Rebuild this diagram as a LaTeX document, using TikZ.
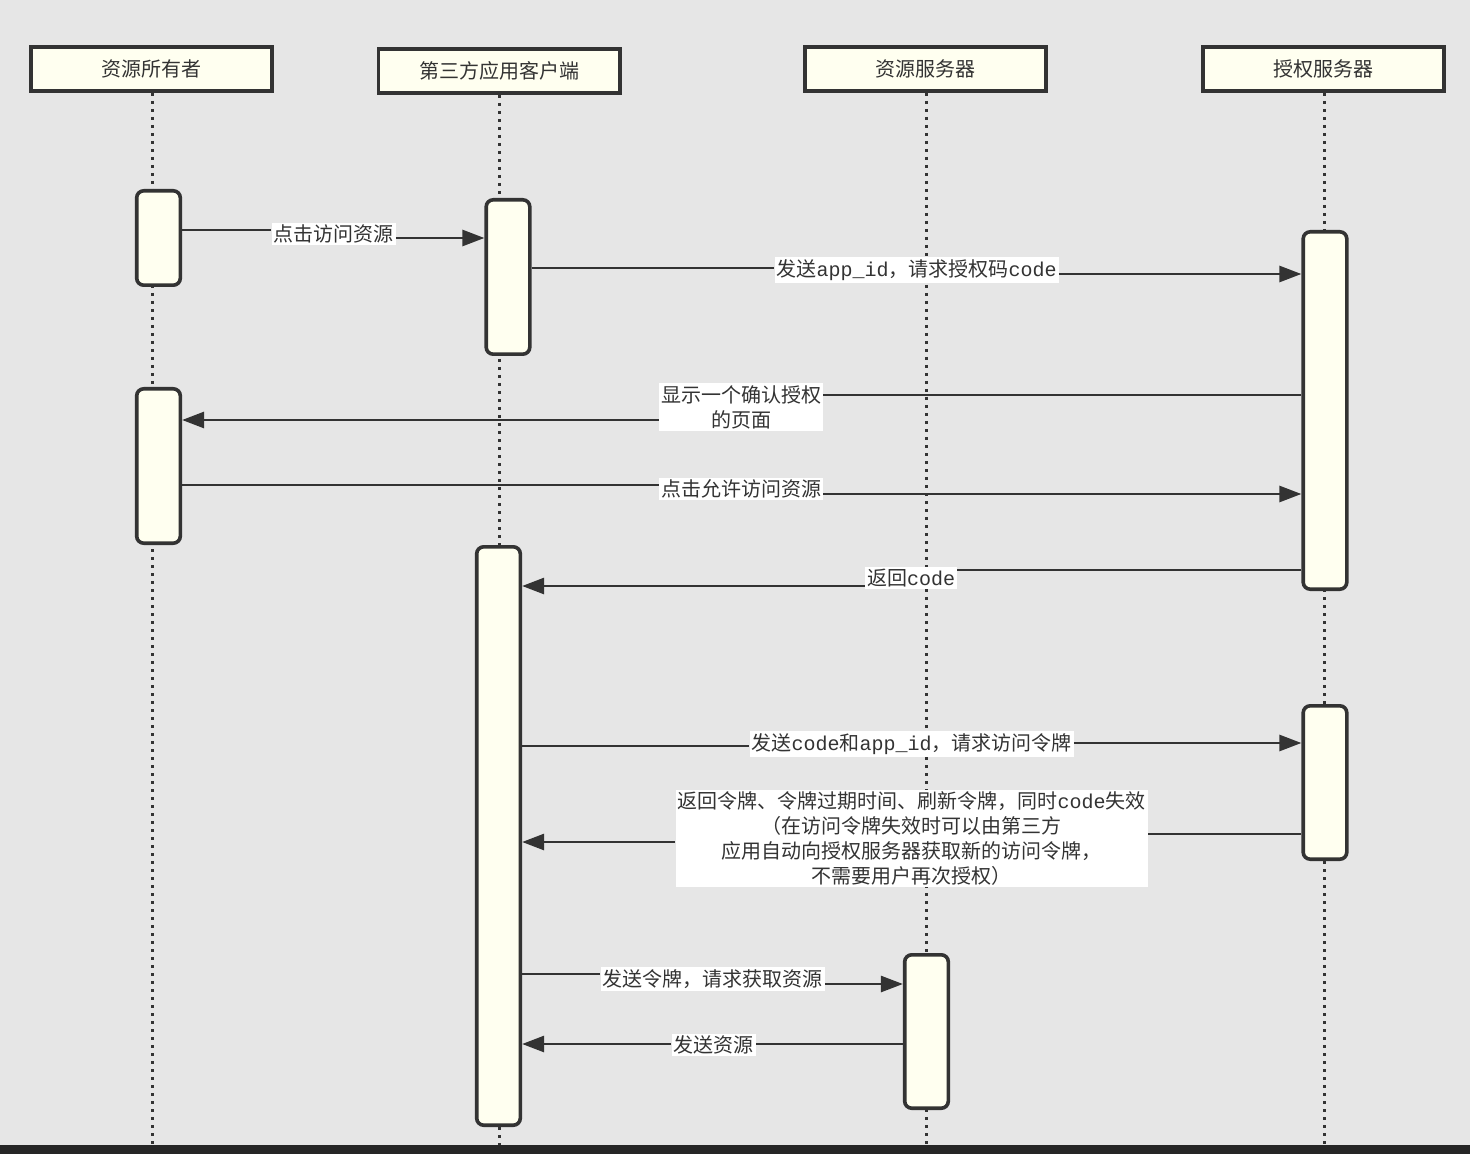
\documentclass[tikz,border=0pt]{standalone}
\usepackage{fontspec}
\setmainfont{Noto Sans CJK SC}
\newfontfamily\latin{Liberation Mono}
\usepackage{xcolor}
\usetikzlibrary{arrows.meta}
\definecolor{bggray}{RGB}{230,230,230}
\definecolor{boxfill}{RGB}{255,255,240}
\definecolor{ink}{RGB}{51,51,51}
\definecolor{barcol}{RGB}{38,38,38}
\newcommand{\lt}[1]{{\latin #1}}

\begin{document}
\begin{tikzpicture}[x=0.5pt,y=-0.5pt,
  head/.style={draw=ink, line width=1.8pt, fill=boxfill, minimum width=120.7pt, minimum height=22.2pt, inner sep=0pt, text=ink, font=\fontsize{10}{12}\selectfont},
  act/.style={draw=ink, line width=1.8pt, fill=boxfill, rounded corners=3.5pt, minimum width=21.8pt, inner sep=0pt},
  life/.style={ink, line width=1.5pt, dash pattern=on 1.5pt off 2.5pt},
  msg/.style={ink, line width=1.35pt},
  tomsg/.style={msg, -{Triangle[length=11pt,width=8pt]}},
  lbl/.style={fill=white, inner sep=1pt, text=ink, align=center, font=\fontsize{10}{12.5}\selectfont}]
\useasboundingbox (0,0) rectangle (1470,1154);
\fill[bggray] (0,0) rectangle (1470,1145);

\node[head] (owner) at (151.5,69) {资源所有者};
\node[head] (client) at (499,71) {第三方应用客户端};
\node[head] (rserver) at (925.5,69) {资源服务器};
\node[head] (aserver) at (1323.5,69) {授权服务器};

\draw[life] (152,93) -- (152,1145);
\draw[life] (499,95) -- (499,1145);
\draw[life] (926,93) -- (926,1145);
\draw[life] (1324,93) -- (1324,1145);

\node[act, minimum height=47.2pt] (a1) at (158.5,238) {};
\node[act, minimum height=77.2pt] (a2) at (508,277) {};
\node[act, minimum height=178.7pt] (a3) at (1325,410.5) {};
\node[act, minimum height=77.2pt] (a4) at (158.5,466) {};
\node[act, minimum height=289.2pt] (a5) at (498.5,836) {};
\node[act, minimum height=76.7pt] (a6) at (1325,782.5) {};
\node[act, minimum height=76.7pt] (a7) at (926.5,1031.5) {};

\node[lbl] (l1) at (333.5,234) {点击访问资源};
\node[lbl] (l2) at (916.5,270) {发送\lt{app\_id}，请求授权码\lt{code}};
\node[lbl] (l3) at (741,407) {显示一个确认授权\\的页面};
\node[lbl] (l4) at (741,489) {点击允许访问资源};
\node[lbl] (l5) at (911,578) {返回\lt{code}};
\node[lbl] (l6) at (911.5,744) {发送\lt{code}和\lt{app\_id}，请求访问令牌};
\node[lbl] (l7) at (911.5,838.5) {返回令牌、令牌过期时间、刷新令牌，同时\lt{code}失效\\（在访问令牌失效时可以由第三方\\应用自动向授权服务器获取新的访问令牌，\\不需要用户再次授权）};
\node[lbl] (l8) at (712.5,979) {发送令牌，请求获取资源};
\node[lbl] (l9) at (713.5,1045) {发送资源};

\draw[msg] (a1.east |- 0,230) -- (l1.west |- 0,230);
\draw[tomsg] (l1.east |- 0,238) -- (a2.west |- 0,238);
\draw[msg] (a2.east |- 0,268) -- (l2.west |- 0,268);
\draw[tomsg] (l2.east |- 0,274) -- (a3.west |- 0,274);
\draw[msg] (a3.west |- 0,395) -- (l3.east |- 0,395);
\draw[tomsg] (l3.west |- 0,420) -- (a4.east |- 0,420);
\draw[msg] (a4.east |- 0,485) -- (l4.west |- 0,485);
\draw[tomsg] (l4.east |- 0,494) -- (a3.west |- 0,494);
\draw[msg] (a3.west |- 0,570) -- (l5.east |- 0,570);
\draw[tomsg] (l5.west |- 0,586) -- (a5.east |- 0,586);
\draw[msg] (a5.east |- 0,746) -- (l6.west |- 0,746);
\draw[tomsg] (l6.east |- 0,743) -- (a6.west |- 0,743);
\draw[msg] (a6.west |- 0,834) -- (l7.east |- 0,834);
\draw[tomsg] (l7.west |- 0,842) -- (a5.east |- 0,842);
\draw[msg] (a5.east |- 0,974) -- (l8.west |- 0,974);
\draw[tomsg] (l8.east |- 0,984) -- (a7.west |- 0,984);
\draw[msg] (a7.west |- 0,1044) -- (l9.east |- 0,1044);
\draw[tomsg] (l9.west |- 0,1044) -- (a5.east |- 0,1044);

\fill[barcol] (0,1145) rectangle (1470,1154);
\end{tikzpicture}
\end{document}
